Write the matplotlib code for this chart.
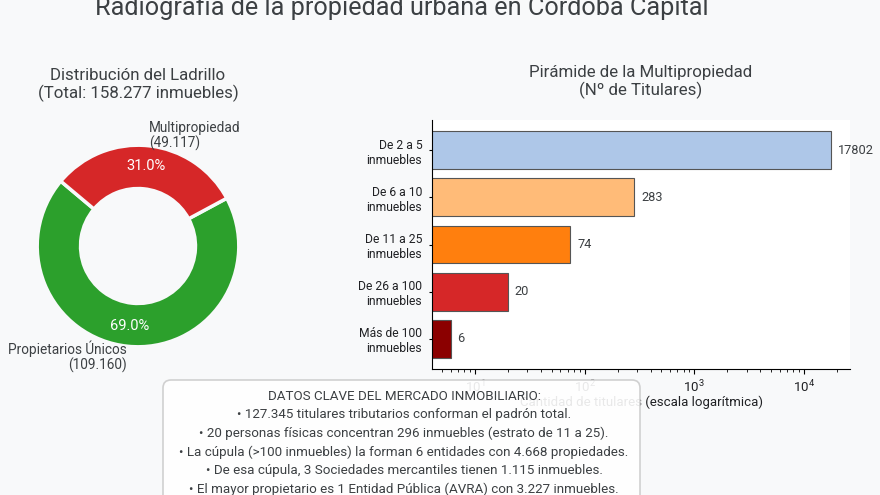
import matplotlib
matplotlib.use("Agg")
import matplotlib.pyplot as plt
from matplotlib.patches import FancyBboxPatch

plt.rcParams["font.family"] = ["Roboto", "DejaVu Sans"]
plt.rcParams["mathtext.default"] = "regular"
plt.rcParams["text.color"] = "#3c4043"

BG = "#f8f9fa"

main_title = "Radiografía de la propiedad urbana en Córdoba Capital"

# donut
pie_labels = ["Propietarios Únicos\n(109.160)", "Multipropiedad\n(49.117)"]
pie_values = [109160, 49117]
pie_colors = ["#2ca02c", "#d62728"]

# bars
categories = ["De 2 a 5\ninmuebles", "De 6 a 10\ninmuebles", "De 11 a 25\ninmuebles",
              "De 26 a 100\ninmuebles", "Más de 100\ninmuebles"]
titulares = [17802, 283, 74, 20, 6]
bar_colors = ["#aec7e8", "#ffbb78", "#ff7f0e", "#d62728", "#8b0000"]

box_lines = [
    "DATOS CLAVE DEL MERCADO INMOBILIARIO:",
    "• 127.345 titulares tributarios conforman el padrón total.",
    "• 20 personas físicas concentran 296 inmuebles (estrato de 11 a 25).",
    "• La cúpula (>100 inmuebles) la forman 6 entidades con 4.668 propiedades.",
    "• De esa cúpula, 3 Sociedades mercantiles tienen 1.115 inmuebles.",
    "• El mayor propietario es 1 Entidad Pública (AVRA) con 3.227 inmuebles.",
]

W, H = 880, 495
fig = plt.figure(figsize=(W / 100, H / 100), dpi=100, facecolor=BG)


def px_axes(left, top, right, bottom):
    return fig.add_axes([left / W, 1 - bottom / H, (right - left) / W, (bottom - top) / H])


fig.text(402 / W, 1 - 15 / H, main_title, ha="center", va="baseline", fontsize=18.2)

ax1 = px_axes(12, 120, 264, 372)
wedges, texts, pcts = ax1.pie(pie_values, labels=pie_labels, colors=pie_colors, startangle=140,
                              autopct="%1.1f%%", pctdistance=0.8, labeldistance=1.1,
                              wedgeprops=dict(width=0.43, edgecolor=BG, linewidth=2.5),
                              textprops=dict(fontsize=9.8))
for t in texts:
    t.set_linespacing(1.05)
for p in pcts:
    p.set_color("white")
    p.set_fontsize(10.5)
ax1.set_title("Distribución del Ladrillo\n(Total: 158.277 inmuebles)", fontsize=12.2, pad=16,
              color="#3c4043", linespacing=1.1)

ax2 = px_axes(432, 120, 850, 369)
ax2.set_facecolor("white")
bars = ax2.barh(categories, titulares, color=bar_colors, edgecolor="#555555", linewidth=0.8)
ax2.set_xscale("log")
ax2.set_xlim(4.06, 26300)
ax2.invert_yaxis()
ax2.bar_label(bars, padding=5, fontsize=9.2, color="#3c4043")
ax2.spines["top"].set_visible(False)
ax2.spines["right"].set_visible(False)
ax2.tick_params(axis="y", labelsize=8.7, labelcolor="#202124", length=2.5, pad=4.5)
ax2.tick_params(axis="x", labelsize=9.5, labelcolor="#202124")
ax2.set_xlabel("Cantidad de titulares (escala logarítmica)", fontsize=9.5, color="#202124",
               labelpad=0.4)
ax2.set_title("Pirámide de la Multipropiedad\n(Nº de Titulares)", fontsize=12.2, pad=18,
              color="#3c4043", linespacing=1.1)

# box is placed in pixels, it runs past the bottom edge like the original
box = FancyBboxPatch((163, -20), 477, H - 380 + 20, boxstyle="round,pad=0,rounding_size=8",
                     transform=None, facecolor="white", edgecolor="#cccccc", linewidth=1.2,
                     alpha=0.9, zorder=5)
fig.add_artist(box)

fig.text(404 / W, 1 - 390 / H, "\n".join(box_lines), ha="center", va="top", fontsize=9.6,
         linespacing=1.52, zorder=10)

fig.savefig("out.png", dpi=100, facecolor=BG)
